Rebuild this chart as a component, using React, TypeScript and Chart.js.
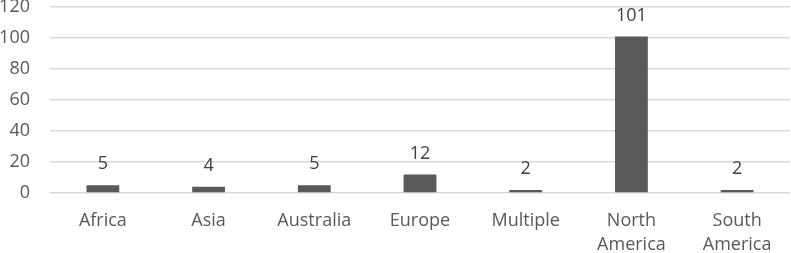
import React, { useEffect, useRef } from "react";
import { Chart, registerables } from "chart.js";

Chart.register(...registerables);

const categories: (string | string[])[] = [
  "Africa",
  "Asia",
  "Australia",
  "Europe",
  "Multiple",
  ["North", "America"],
  ["South", "America"],
];
const counts: number[] = [5, 4, 5, 12, 2, 101, 2];
const yTicks: number[] = [0, 20, 40, 60, 80, 100, 120];

const FONT = "'Open Sans', 'Noto Sans', sans-serif";
const TEXT = "#595959";

const dataLabels = {
  id: "dataLabels",
  afterDatasetsDraw(chart: any) {
    const ctx = chart.ctx;
    const meta = chart.getDatasetMeta(0);
    ctx.save();
    ctx.font = `18px ${FONT}`;
    ctx.fillStyle = "#404040";
    ctx.textAlign = "center";
    ctx.textBaseline = "middle";
    meta.data.forEach((bar: any, i: number) => {
      ctx.fillText(String(chart.data.datasets[0].data[i]), bar.x, bar.y - 21);
    });
    ctx.restore();
  },
};

export default function App() {
  const ref = useRef<HTMLCanvasElement | null>(null);
  useEffect(() => {
    document.body.style.margin = "0";
    if (!ref.current) return;
    const chart = new Chart(ref.current, {
      type: "bar",
      data: {
        labels: categories,
        datasets: [
          {
            data: counts,
            backgroundColor: "#595959",
            categoryPercentage: 1,
            barPercentage: 0.31,
          },
        ],
      },
      options: {
        animation: false,
        responsive: false,
        maintainAspectRatio: false,
        layout: { padding: { top: 7, right: 1, left: 0, bottom: 0 } },
        plugins: { legend: { display: false }, tooltip: { enabled: false } },
        scales: {
          x: {
            grid: { display: false, drawTicks: false },
            border: { display: false },
            ticks: {
              color: TEXT,
              font: { family: FONT, size: 18, lineHeight: 1.33 },
              padding: 16,
              maxRotation: 0,
              autoSkip: false,
            },
            afterFit(scale: any) {
              scale.height = 60;
              scale.paddingLeft = 0;
              scale.paddingRight = 0;
            },
          },
          y: {
            min: 0,
            max: 120,
            afterBuildTicks(scale: any) {
              scale.ticks = yTicks.map((v) => ({ value: v }));
            },
            grid: { color: "#d9d9d9", lineWidth: 1.5, drawTicks: false },
            border: { display: false },
            ticks: {
              color: TEXT,
              font: { family: FONT, size: 18 },
              padding: 20,
            },
            afterFit(scale: any) {
              scale.width = 50;
              scale.paddingTop = 0;
              scale.paddingBottom = 0;
            },
          },
        },
      },
      plugins: [dataLabels],
    });
    return () => chart.destroy();
  }, []);
  return (
    <div style={{ width: 791, height: 253 }}>
      <canvas ref={ref} width={791} height={253} />
    </div>
  );
}
